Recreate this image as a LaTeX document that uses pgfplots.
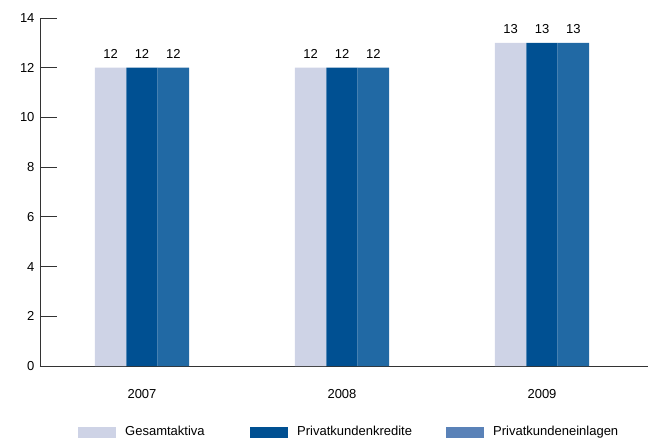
\documentclass[border=0pt]{standalone}
\usepackage{pgfplots}
\pgfplotsset{compat=1.18}
\usepackage{fontspec}
\setmainfont{Liberation Sans}
\definecolor{cLight}{HTML}{CED3E6}
\definecolor{cDark}{HTML}{005092}
\definecolor{cMid}{HTML}{2169A4}
\definecolor{cMidLeg}{HTML}{5A82B8}
\definecolor{cAxis}{HTML}{333333}
\begin{document}
\fontsize{13}{15}\selectfont
\begin{tikzpicture}
\useasboundingbox (-40pt,-73pt) rectangle (616pt,366pt);
\begin{axis}[
  scale only axis,
  width=608pt, height=348pt,
  at={(0pt,0pt)}, anchor=south west,
  xmin=-0.51, xmax=2.53,
  ymin=0, ymax=14,
  ytick={0,2,...,14},
  xtick={0,1,2},
  xticklabels={2007,2008,2009},
  axis x line*=bottom, axis y line*=left,
  axis line style={cAxis, line width=0.8pt},
  x axis line style={-}, y axis line style={-},
  major x tick style={draw=none},
  ytick style={cAxis, line width=0.8pt},
  tick align=inside,
  major tick length=17pt,
  tick label style={font=\fontsize{13}{15}\selectfont},
  yticklabel style={xshift=-1pt},
  xticklabel style={yshift=-2pt},
  /pgf/number format/assume math mode=true,
  ybar, bar width=0.157,
  nodes near coords,
  every node near coord/.append style={font=\fontsize{13}{15}\selectfont, yshift=5pt},
  legend columns=3,
  legend style={draw=none, at={(0.0625,-0.19)}, anchor=west, inner sep=0pt, column sep=0pt,
    font=\fontsize{13}{15}\selectfont, /tikz/every even column/.append style={column sep=0pt}},
  legend cell align=left,
]
\addplot[fill=cLight, draw=none, bar shift=-0.157,
  legend image code/.code={\fill[cLight] (0pt,-5.5pt) rectangle (38pt,5.5pt);}]
  coordinates {(0,12) (1,12) (2,13)};
\addlegendentry{\hspace{7pt}\makebox[123pt][l]{Gesamtaktiva}}
\addplot[fill=cDark, draw=none, bar shift=0,
  legend image code/.code={\fill[cDark] (0pt,-5.5pt) rectangle (38pt,5.5pt);}]
  coordinates {(0,12) (1,12) (2,13)};
\addlegendentry{\hspace{7pt}\makebox[147pt][l]{Privatkundenkredite}}
\addplot[fill=cMid, draw=none, bar shift=0.157,
  legend image code/.code={\fill[cMidLeg] (0pt,-5.5pt) rectangle (38pt,5.5pt);}]
  coordinates {(0,12) (1,12) (2,13)};
\addlegendentry{\hspace{7pt}Privatkundeneinlagen}
\end{axis}
\end{tikzpicture}
\end{document}
